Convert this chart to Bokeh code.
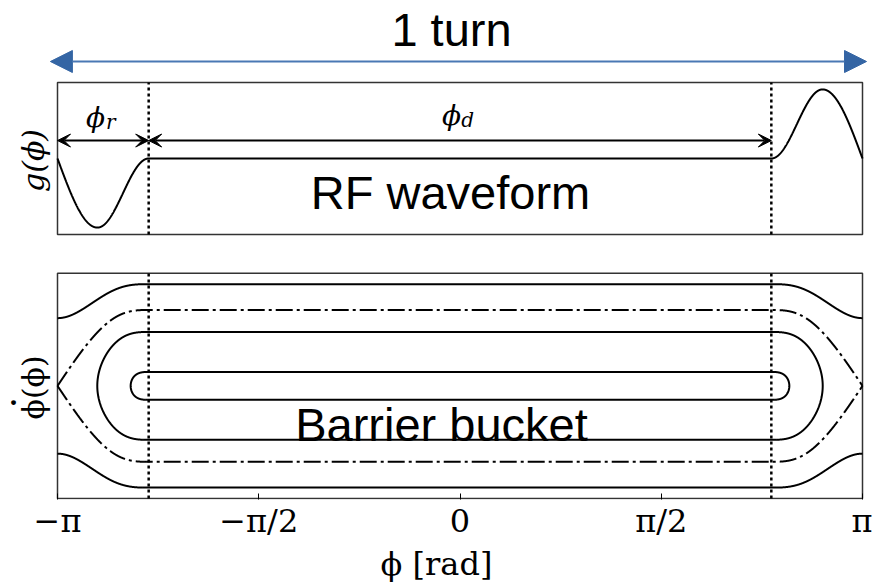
import numpy as np
from bokeh.plotting import figure
from bokeh.layouts import column
from bokeh.models import Range1d, FixedTicker, Label, Arrow, NormalHead, VeeHead
from bokeh.embed import file_html
from bokeh.resources import INLINE

# ---------------- values ----------------
phi_flat_edge = 2.43          # |phi| [rad] where the flat part of g(phi) ends (dotted lines)
phi_peak = 2.83               # |phi| [rad] of the barrier extremum
g_amplitude = 1.0             # barrier pulse height (flat level = 0)
orbit_flat_levels = [1.0, 0.746, 0.53, 0.137]   # phi-dot on the flat part: outer, separatrix, inner, innermost
orbit_dashes = ["solid", "17 4 3 4", "solid", "solid"]
turn_arrow = [-3.197, 3.173]  # extent of the "1 turn" arrow [rad]
x_ticks = [-np.pi, -np.pi / 2, 0.0, np.pi / 2, np.pi]
x_tick_labels = ["−π", "−π/2", "0", "π/2", "π"]

# ---------------- waveform and potential ----------------
def g_of(ph):
    a = np.abs(ph)
    out = np.zeros_like(a)
    m1 = (a >= phi_flat_edge) & (a < phi_peak)
    out[m1] = g_amplitude * (1 - np.cos(np.pi * (a[m1] - phi_flat_edge) / (phi_peak - phi_flat_edge))) / 2
    m2 = a >= phi_peak
    out[m2] = g_amplitude * np.cos(0.5 * np.pi * (a[m2] - phi_peak) / (np.pi - phi_peak))
    return np.sign(ph) * out

phi = np.linspace(-np.pi, np.pi, 6001)
g = g_of(phi)

r = np.linspace(0, np.pi, 20001)
gr = g_of(r)
V = np.concatenate([[0.0], np.cumsum(0.5 * (gr[1:] + gr[:-1]) * np.diff(r))])
Vn = V / V[-1]

def vn_at(ph):
    return np.interp(np.abs(ph), r, Vn)

S = orbit_flat_levels[1]
orbits = []
for L in orbit_flat_levels:
    if L >= S - 1e-12:
        xs = np.linspace(-np.pi, np.pi, 6001)
        yd = np.sqrt(np.clip(L ** 2 - S ** 2 * vn_at(xs), 0, None))
        orbits.append([(xs, yd), (xs, -yd)])
    else:
        mask = r > phi_flat_edge
        rt = np.interp((L / S) ** 2, Vn[mask], r[mask])
        xs = rt * np.sin(np.linspace(-np.pi / 2, np.pi / 2, 4001))
        yd = np.sqrt(np.clip(L ** 2 - S ** 2 * vn_at(xs), 0, None))
        cx = np.concatenate([xs, xs[::-1]])
        cy = np.concatenate([yd, -yd[::-1]])
        orbits.append([(cx, cy)])

# ---------------- layout geometry (pixels) ----------------
W = 872
PL, PR = 57, 10                      # panel box offsets from the left / right canvas edges
s = (W - PL - PR) / (2 * np.pi)      # pixels per radian
XR = (-np.pi - PL / s, np.pi + PR / s)
TOP_Y = 1.1                          # half height of the waveform panel
BOT_Y = 1.107                        # half height of the phase-space panel
ts = 152 / (2 * TOP_Y)               # px per unit, waveform panel (box 82..234)
bs = 227 / (2 * BOT_Y)               # px per unit, phase-space panel (box 273..500)
SERIF = "DejaVu Serif"
SANS = "Liberation Sans"
FRAME = "#333333"

top = figure(width=W, height=244, x_range=Range1d(*XR),
             y_range=Range1d(-TOP_Y - 10 / ts, TOP_Y + 82 / ts),
             output_backend="svg", toolbar_location=None,
             x_axis_location=None, y_axis_location=None,
             min_border_left=0, min_border_right=0, min_border_top=0, min_border_bottom=0)
bot = figure(width=W, height=341, x_range=Range1d(*XR),
             y_range=Range1d(-BOT_Y - 1 / bs, BOT_Y + 29 / bs),
             output_backend="svg", toolbar_location=None, y_axis_location=None,
             min_border_left=0, min_border_right=0, min_border_top=0, min_border_bottom=84)

for p, hy in ((top, TOP_Y), (bot, BOT_Y)):
    p.grid.visible = False
    p.outline_line_color = None
    p.background_fill_color = "white"
    p.border_fill_color = "white"
    p.quad(left=-np.pi, right=np.pi, bottom=-hy, top=hy, fill_color=None,
           line_color=FRAME, line_width=1.5)
    p.segment(x0=[-phi_flat_edge, phi_flat_edge], y0=[-hy, -hy],
              x1=[-phi_flat_edge, phi_flat_edge], y1=[hy, hy],
              line_color="black", line_width=2.5, line_dash="3 3")

# ---- header: "1 turn" arrow ----
y_arrow = TOP_Y + (82 - 61) / ts
top.add_layout(Arrow(x_start=turn_arrow[0], y_start=y_arrow, x_end=turn_arrow[1], y_end=y_arrow,
                     line_color="#4a78b4", line_width=2,
                     start=NormalHead(size=22, fill_color="#3465a4", line_color="#3465a4"),
                     end=NormalHead(size=22, fill_color="#3465a4", line_color="#3465a4")))
top.add_layout(Label(x=-np.pi + (451 - PL) / s, y=TOP_Y + (82 - 29) / ts, text="1 turn",
                     text_font=SANS, text_color="black", text_font_size="47px",
                     text_align="center", text_baseline="middle"))

# ---- waveform panel ----
top.line(phi, g, line_color="black", line_width=2)

for xa, xb in ((-np.pi, -phi_flat_edge), (-phi_flat_edge, phi_flat_edge)):
    top.add_layout(Arrow(x_start=xa, y_start=0.26, x_end=xb, y_end=0.26,
                         line_color="black", line_width=2,
                         start=VeeHead(size=13, fill_color="black", line_color="black"),
                         end=VeeHead(size=13, fill_color="black", line_color="black")))

def text_label(fig, x, y, txt, size, font=SERIF, style="italic", angle=0.0):
    fig.add_layout(Label(x=x, y=y, text=txt, text_font=font, text_font_style=style,
                         text_color="black", text_font_size=size, angle=angle,
                         text_align="center", text_baseline="middle"))

text_label(top, -2.845, 0.59, "ϕ", "28px")
text_label(top, -2.725, 0.53, "r", "20px")
text_label(top, -0.066, 0.62, "ϕ", "28px")
text_label(top, 0.06, 0.56, "d", "20px")
text_label(top, -np.pi + (450 - PL) / s, (158 - 192) / ts, "RF waveform", "47px", font=SANS, style="normal")
text_label(top, -np.pi - 24 / s, (158 - 160) / ts, "g(ϕ)", "30px", angle=np.pi / 2)

# ---- phase-space panel ----
for branches, dash in zip(orbits, orbit_dashes):
    for xs, ys in branches:
        bot.line(xs, ys, line_color="black", line_width=2, line_dash=dash)

text_label(bot, -np.pi + (441 - PL) / s, (386.5 - 425) / bs, "Barrier bucket", "47px",
           font=SANS, style="normal")
text_label(bot, -np.pi - 24 / s, (386.5 - 388) / bs, "ϕ(ϕ)", "30px", style="normal", angle=np.pi / 2)
text_label(bot, -np.pi - 44 / s, (386.5 - 404) / bs, "·", "26px", style="bold")

bot.xaxis.ticker = FixedTicker(ticks=x_ticks)
bot.xaxis.major_label_overrides = {t: lab for t, lab in zip(x_ticks, x_tick_labels)}
bot.xaxis.axis_line_color = None
bot.xaxis.major_tick_in = 6
bot.xaxis.major_tick_out = 0
bot.xaxis.major_tick_line_color = "black"
bot.xaxis.major_tick_line_width = 1
bot.xaxis.minor_tick_line_color = None
bot.xaxis.major_label_text_font = SERIF
bot.xaxis.major_label_text_color = "black"
bot.xaxis.major_label_text_font_size = "32px"
bot.xaxis.major_label_standoff = 2
bot.xaxis.axis_label = "ϕ [rad]"
bot.xaxis.axis_label_text_font = SERIF
bot.xaxis.axis_label_text_color = "black"
bot.xaxis.axis_label_text_font_style = "normal"
bot.xaxis.axis_label_text_font_size = "32px"
bot.xaxis.axis_label_standoff = 2

layout = column(top, bot)
open("out.html", "w").write(file_html(layout, INLINE))
